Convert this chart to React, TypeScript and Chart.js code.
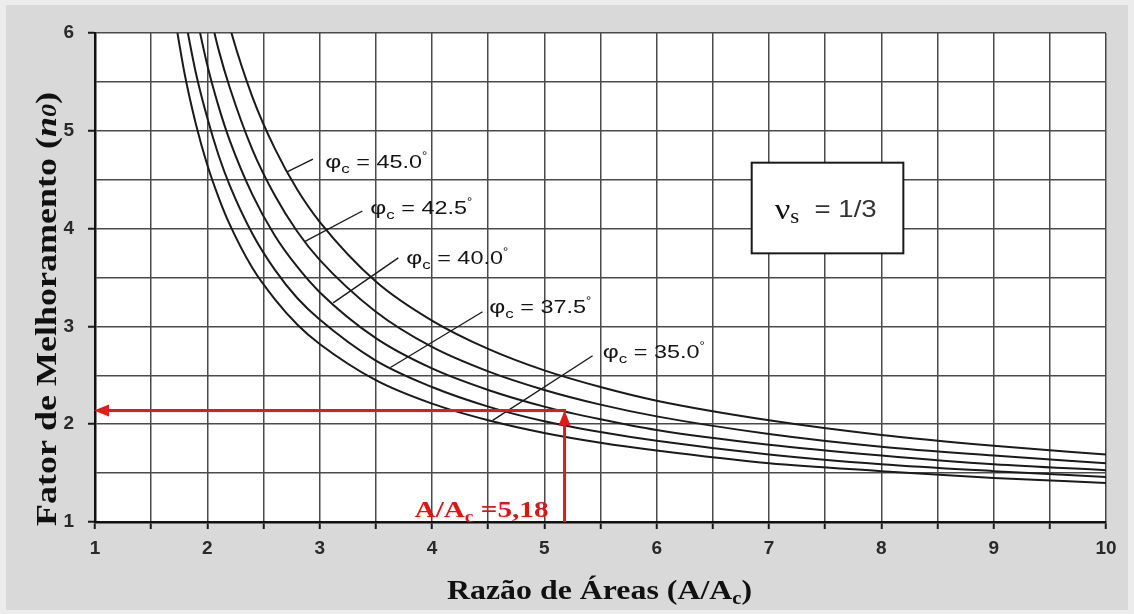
import { useEffect, useRef } from 'react';
import { Chart, registerables } from 'chart.js';

Chart.register(...registerables);

// Area replacement ratio A/Ac sampled along each curve
const AREA_RATIO = [1.7, 1.8, 1.9, 2.0, 2.1, 2.2, 2.4, 2.6, 2.8, 3.0, 3.5, 4.0, 4.5, 5.0, 5.5, 6.0, 7.0, 8.0, 9.0, 10.0];

// Improvement factor n0 for each column friction angle (null = off the top of the chart)
const N0_PHI_35 = [6.23, 5.57, 5.06, 4.65, 4.32, 4.04, 3.6, 3.28, 3.02, 2.82, 2.45, 2.21, 2.04, 1.91, 1.81, 1.73, 1.6, 1.52, 1.45, 1.4];
const N0_PHI_37_5 = [null, 6.16, 5.58, 5.13, 4.75, 4.44, 3.95, 3.58, 3.29, 3.07, 2.65, 2.38, 2.18, 2.03, 1.92, 1.83, 1.69, 1.59, 1.52, 1.46];
const N0_PHI_40 = [null, null, 6.19, 5.67, 5.25, 4.9, 4.35, 3.93, 3.61, 3.35, 2.88, 2.57, 2.35, 2.18, 2.05, 1.94, 1.79, 1.68, 1.59, 1.53];
const N0_PHI_42_5 = [null, null, null, 6.31, 5.83, 5.44, 4.81, 4.34, 3.97, 3.68, 3.15, 2.79, 2.54, 2.35, 2.2, 2.08, 1.9, 1.77, 1.68, 1.6];
const N0_PHI_45 = [null, null, null, null, 6.52, 6.06, 5.35, 4.82, 4.4, 4.07, 3.46, 3.06, 2.77, 2.55, 2.38, 2.24, 2.04, 1.89, 1.78, 1.69];

const PHI_LABELS = ['35.0', '37.5', '40.0', '42.5', '45.0'];
const SERIES = [N0_PHI_35, N0_PHI_37_5, N0_PHI_40, N0_PHI_42_5, N0_PHI_45];

// Worked example: ratio read on the x axis and resulting n0
const EXAMPLE_RATIO = 5.18;
const EXAMPLE_N0 = 2.14;

const POISSON_TEXT = '1/3';

// Curve label anchors (text baseline-left) and leader line ends, in data units
const LABEL_POS = [
  { tx: 5.52, ty: 2.68, from: [5.43, 2.7], to: [4.54, 2.04] },
  { tx: 4.51, ty: 3.14, from: [4.45, 3.15], to: [3.63, 2.58] },
  { tx: 3.77, ty: 3.64, from: [3.7, 3.7], to: [3.12, 3.24] },
  { tx: 3.45, ty: 4.15, from: [3.38, 4.18], to: [2.87, 3.87] },
  { tx: 3.05, ty: 4.62, from: [2.94, 4.71], to: [2.71, 4.58] },
];

const SANS = '"Liberation Sans", Arial, sans-serif';
const SERIF = '"Liberation Serif", "Times New Roman", serif';

type Seg = { t: string; font: string; dy?: number; color?: string };

function drawRich(
  ctx: CanvasRenderingContext2D,
  x: number,
  y: number,
  segs: Seg[],
  opts: { width?: number; scaleX?: number; align?: 'left' | 'center' | 'right'; color: string }
) {
  ctx.save();
  let total = 0;
  for (const s of segs) {
    ctx.font = s.font;
    total += ctx.measureText(s.t).width;
  }
  const sx = opts.width ? opts.width / total : opts.scaleX ?? 1;
  const w = total * sx;
  let start = x;
  if (opts.align === 'center') start = x - w / 2;
  else if (opts.align === 'right') start = x - w;
  ctx.translate(start, y);
  ctx.scale(sx, 1);
  ctx.textAlign = 'left';
  ctx.textBaseline = 'alphabetic';
  let cx = 0;
  for (const s of segs) {
    ctx.font = s.font;
    ctx.fillStyle = s.color ?? opts.color;
    ctx.fillText(s.t, cx, s.dy ?? 0);
    cx += ctx.measureText(s.t).width;
  }
  ctx.restore();
}

const backdrop = {
  id: 'backdrop',
  beforeDraw(chart: any) {
    const { ctx, width, height, chartArea } = chart;
    ctx.save();
    ctx.fillStyle = '#ececec';
    ctx.fillRect(0, 0, width, height);
    ctx.fillStyle = '#d9d9d9';
    ctx.fillRect(6, 5, width - 12, height - 9);
    ctx.fillStyle = '#ffffff';
    ctx.fillRect(chartArea.left, chartArea.top, chartArea.right - chartArea.left, chartArea.bottom - chartArea.top);
    ctx.restore();
  },
};

const annotations = {
  id: 'annotations',
  afterDatasetsDraw(chart: any) {
    const { ctx } = chart;
    const xs = chart.scales.x;
    const ys = chart.scales.y;
    const px = (v: number) => xs.getPixelForValue(v);
    const py = (v: number) => ys.getPixelForValue(v);

    // Curve labels with leader lines
    ctx.save();
    ctx.strokeStyle = '#1a1a1a';
    ctx.lineWidth = 1.4;
    LABEL_POS.forEach((p, i) => {
      ctx.beginPath();
      ctx.moveTo(px(p.from[0]), py(p.from[1]));
      ctx.lineTo(px(p.to[0]), py(p.to[1]));
      ctx.stroke();
      drawRich(
        ctx,
        px(p.tx),
        py(p.ty),
        [
          { t: 'φ', font: `19px ${SANS}` },
          { t: 'c', font: `13px ${SANS}`, dy: 5 },
          { t: ' = ' + PHI_LABELS[i], font: `18px ${SANS}` },
          { t: '°', font: `10px ${SANS}`, dy: -9 },
        ],
        { width: 102, color: '#141414' }
      );
    });
    ctx.restore();

    // Poisson ratio box
    ctx.save();
    const bx0 = px(6.846);
    const by0 = py(4.674);
    const bx1 = px(8.196);
    const by1 = py(3.747);
    ctx.fillStyle = '#ffffff';
    ctx.fillRect(bx0, by0, bx1 - bx0, by1 - by0);
    ctx.strokeStyle = '#1a1a1a';
    ctx.lineWidth = 2;
    ctx.strokeRect(bx0, by0, bx1 - bx0, by1 - by0);
    drawRich(
      ctx,
      bx0 + 23,
      by0 + 56,
      [
        { t: 'ν', font: `30px ${SERIF}`, color: '#111' },
        { t: 's', font: `20px ${SERIF}`, dy: 4, color: '#111' },
        { t: '  = ' + POISSON_TEXT, font: `24px ${SANS}`, dy: -2, color: '#333' },
      ],
      { width: 102, color: '#333' }
    );
    ctx.restore();

    // Worked example arrows
    const red = '#e11a1a';
    const lx = px(EXAMPLE_RATIO);
    const ly = py(EXAMPLE_N0);
    const bottom = py(1);
    const left = px(1);
    ctx.save();
    ctx.strokeStyle = red;
    ctx.fillStyle = red;
    ctx.lineWidth = 3;
    ctx.beginPath();
    ctx.moveTo(lx, bottom);
    ctx.lineTo(lx, ly + 12);
    ctx.stroke();
    ctx.beginPath();
    ctx.moveTo(lx + 1.5, ly);
    ctx.lineTo(left + 12, ly);
    ctx.stroke();
    // up arrow head
    ctx.beginPath();
    ctx.moveTo(lx, ly);
    ctx.lineTo(lx - 6, ly + 15);
    ctx.lineTo(lx + 6, ly + 15);
    ctx.closePath();
    ctx.fill();
    // left arrow head
    ctx.beginPath();
    ctx.moveTo(left - 1, ly);
    ctx.lineTo(left + 14, ly - 6);
    ctx.lineTo(left + 14, ly + 6);
    ctx.closePath();
    ctx.fill();
    drawRich(
      ctx,
      lx - 16,
      bottom - 5,
      [
        { t: 'A/A', font: `bold 24px ${SERIF}` },
        { t: 'c', font: `bold 16px ${SERIF}`, dy: 5 },
        { t: ' =' + EXAMPLE_RATIO.toFixed(2).replace('.', ','), font: `bold 24px ${SERIF}` },
      ],
      { width: 134, align: 'right', color: '#dc1616' }
    );
    ctx.restore();
  },
  afterDraw(chart: any) {
    const { ctx, chartArea } = chart;
    const cx = (chartArea.left + chartArea.right) / 2;
    // x axis title
    drawRich(
      ctx,
      cx - 1,
      599,
      [
        { t: 'Razão de Áreas (A/A', font: `bold 28px ${SERIF}` },
        { t: 'c', font: `bold 18px ${SERIF}`, dy: 5 },
        { t: ')', font: `bold 28px ${SERIF}` },
      ],
      { width: 305, align: 'center', color: '#111' }
    );
    // y axis title
    ctx.save();
    ctx.translate(56, 309);
    ctx.rotate(-Math.PI / 2);
    drawRich(
      ctx,
      0,
      0,
      [
        { t: 'Fator de Melhoramento (', font: `bold 29px ${SERIF}` },
        { t: 'n', font: `italic bold 29px ${SERIF}` },
        { t: '0', font: `italic bold 21px ${SERIF}` },
        { t: ')', font: `bold 29px ${SERIF}` },
      ],
      { width: 434, align: 'center', color: '#111' }
    );
    ctx.restore();
  },
};

export default function App() {
  const ref = useRef<HTMLCanvasElement>(null);

  useEffect(() => {
    const canvas = ref.current;
    if (!canvas) return;

    const tickFont = { family: SANS, size: 19, weight: 'bold' as const };
    const intLabel = (v: any) => (Number.isInteger(Number(v)) ? String(v) : '');

    const chart = new Chart(canvas, {
      type: 'line',
      data: {
        datasets: SERIES.map((vals, i) => ({
          label: PHI_LABELS[i],
          data: AREA_RATIO.map((x, j) => ({ x, y: vals[j] as any })),
          borderColor: '#1a1a1a',
          borderWidth: 2,
          pointRadius: 0,
          fill: false,
          cubicInterpolationMode: 'monotone' as const,
          clip: 0,
        })),
      },
      options: {
        responsive: false,
        animation: false,
        devicePixelRatio: 1,
        events: [],
        layout: { padding: { top: 33, right: 28, left: 0, bottom: 0 } },
        plugins: { legend: { display: false }, tooltip: { enabled: false } },
        scales: {
          x: {
            type: 'linear',
            min: 1,
            max: 10,
            afterFit: (s: any) => {
              s.height = 92;
            },
            ticks: {
              stepSize: 0.5,
              autoSkip: false,
              maxRotation: 0,
              callback: intLabel,
              font: tickFont,
              color: '#2a2a2a',
              padding: 8,
            },
            grid: {
              color: '#4a4a4a',
              lineWidth: 1.5,
              tickLength: 7,
              tickColor: '#1a1a1a',
              tickWidth: 2,
            },
            border: { color: '#111', width: 2.5 },
          },
          y: {
            type: 'linear',
            min: 1,
            max: 6,
            afterFit: (s: any) => {
              s.width = 95;
            },
            ticks: {
              stepSize: 0.5,
              autoSkip: false,
              callback: intLabel,
              font: tickFont,
              color: '#2a2a2a',
              padding: 14,
            },
            grid: {
              color: '#4a4a4a',
              lineWidth: 1.5,
              tickLength: 7,
              tickWidth: 2,
              tickColor: (c: any) => (Number.isInteger(c.tick?.value) ? '#1a1a1a' : 'rgba(0,0,0,0)'),
            },
            border: { color: '#111', width: 2.5 },
          },
        },
      },
      plugins: [backdrop, annotations],
    });

    return () => chart.destroy();
  }, []);

  return (
    <div style={{ position: 'fixed', left: 0, top: 0, width: 1134, height: 614 }}>
      <canvas ref={ref} width={1134} height={614} style={{ display: 'block' }} />
    </div>
  );
}
